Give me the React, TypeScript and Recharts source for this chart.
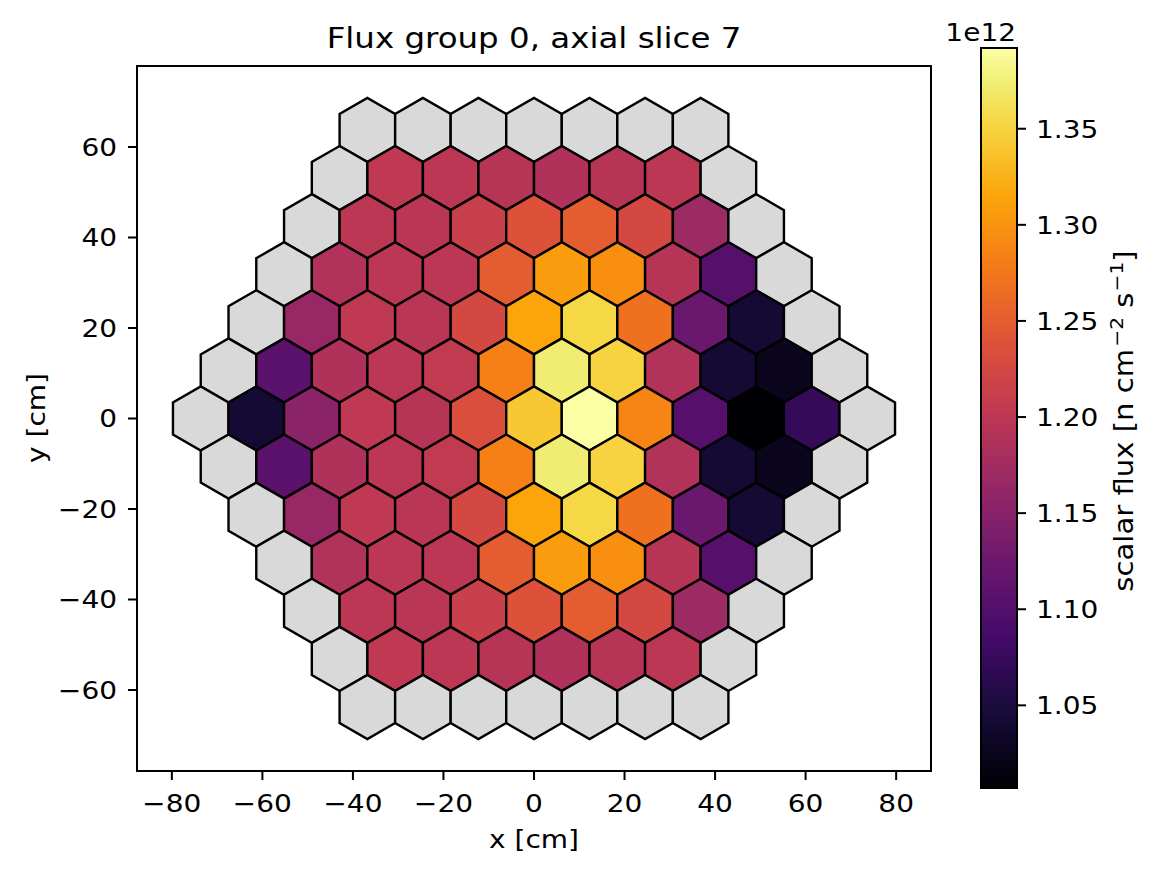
import React from 'react';
import {
  ScatterChart,
  Scatter,
  ComposedChart,
  Line,
  XAxis,
  YAxis,
  ReferenceArea,
  Customized,
} from 'recharts';

// ---------------- data ----------------
const TITLE = 'Flux group 0, axial slice 7';
const X_LABEL = 'x [cm]';
const Y_LABEL = 'y [cm]';
const CB_LABEL_MAIN = 'scalar flux [n cm';
const CB_LABEL_EXP1 = '\u22122';
const CB_LABEL_MID = ' s';
const CB_LABEL_EXP2 = '\u22121';
const CB_LABEL_END = ']';
const CB_OFFSET = '1e12';

const PITCH = 12.27; // hex pitch (cm)
const RINGS = 6; // outer ring (ring 6) has no data -> gray

const X_TICKS = [-80, -60, -40, -20, 0, 20, 40, 60, 80];
const Y_TICKS = [-60, -40, -20, 0, 20, 40, 60];
const CB_TICKS = [1.05e12, 1.1e12, 1.15e12, 1.2e12, 1.25e12, 1.3e12, 1.35e12];

// interior hex values per row, from top (row +5) to bottom (row -5), left to right
const ROW_P5 = [1.203e12, 1.2e12, 1.194e12, 1.188e12, 1.194e12, 1.2e12];
const ROW_P4 = [1.2e12, 1.198e12, 1.213e12, 1.238e12, 1.25e12, 1.226e12, 1.169e12];
const ROW_P3 = [1.19e12, 1.2e12, 1.2e12, 1.25e12, 1.307e12, 1.296e12, 1.194e12, 1.103e12];
const ROW_P2 = [1.165e12, 1.203e12, 1.198e12, 1.226e12, 1.315e12, 1.354e12, 1.269e12, 1.1225e12, 1.042e12];
const ROW_P1 = [1.107e12, 1.188e12, 1.2e12, 1.205e12, 1.284e12, 1.373e12, 1.35e12, 1.19e12, 1.042e12, 1.026e12];
const ROW_0 = [1.042e12, 1.153e12, 1.203e12, 1.194e12, 1.234e12, 1.342e12, 1.392e12, 1.288e12, 1.103e12, 1.007e12, 1.072e12];
const ROW_M1 = [1.107e12, 1.188e12, 1.2e12, 1.205e12, 1.284e12, 1.373e12, 1.35e12, 1.19e12, 1.042e12, 1.026e12];
const ROW_M2 = [1.165e12, 1.203e12, 1.198e12, 1.226e12, 1.315e12, 1.354e12, 1.269e12, 1.1225e12, 1.042e12];
const ROW_M3 = [1.19e12, 1.2e12, 1.2e12, 1.25e12, 1.307e12, 1.296e12, 1.194e12, 1.103e12];
const ROW_M4 = [1.2e12, 1.198e12, 1.213e12, 1.238e12, 1.25e12, 1.226e12, 1.169e12];
const ROW_M5 = [1.203e12, 1.2e12, 1.194e12, 1.188e12, 1.194e12, 1.2e12];

const ROWS = [ROW_P5, ROW_P4, ROW_P3, ROW_P2, ROW_P1, ROW_0, ROW_M1, ROW_M2, ROW_M3, ROW_M4, ROW_M5];

// inferno colormap samples: [position, colour]
const INFERNO: [number, string][] = [
  [0.0, '#000004'],
  [0.1, '#160b39'],
  [0.2, '#420a68'],
  [0.3, '#6a176e'],
  [0.4, '#932667'],
  [0.5, '#bc3754'],
  [0.6, '#dd513a'],
  [0.7, '#f37819'],
  [0.8, '#fca50a'],
  [0.9, '#f6d746'],
  [0.95, '#f1ed71'],
  [1.0, '#fcffa4'],
];

// ---------------- derived ----------------
type Cell = { x: number; y: number; v: number | null };

const CELLS: Cell[] = [];
for (let j = RINGS; j >= -RINGS; j--) {
  const n = 2 * RINGS + 1 - Math.abs(j);
  for (let i = 0; i < n; i++) {
    const x = (i - (n - 1) / 2) * PITCH;
    const y = (j * PITCH * Math.sqrt(3)) / 2;
    const edge = Math.abs(j) === RINGS || i === 0 || i === n - 1;
    const v = edge ? null : ROWS[RINGS - 1 - j][i - 1];
    CELLS.push({ x, y, v });
  }
}

const ALL_VALUES = ROWS.flat();
const VMIN = Math.min(...ALL_VALUES);
const VMAX = Math.max(...ALL_VALUES);

// ---------------- layout ----------------
const W = 1158;
const H = 877;
const FONT = '"DejaVu Sans", Verdana, sans-serif';
const GRAY = '#d9d9d9';
const SX = 1.12; // horizontal glyph stretch seen in the reference text
const TICK_FS = 25;

const MARGIN = { top: 66, right: 227, bottom: 46, left: 57 };
const Y_AXIS_W = 80;
const X_AXIS_H = 60;
const PLOT_W = W - MARGIN.left - MARGIN.right - Y_AXIS_W;
const X_MIN = -87.7;
const X_MAX = 87.7;
const Y_MIN = -77.9;
const Y_MAX = 77.9;
const PX_PER_UNIT = PLOT_W / (X_MAX - X_MIN);
const HEX_R_PX = (PITCH / Math.sqrt(3)) * PX_PER_UNIT;

const PLOT_CX = MARGIN.left + Y_AXIS_W + PLOT_W / 2;

// ---------------- helpers ----------------
function hexToRgb(h: string) {
  return [1, 3, 5].map((k) => parseInt(h.slice(k, k + 2), 16));
}
function inferno(t: number) {
  const tt = Math.max(0, Math.min(1, t));
  let i = 0;
  while (i < INFERNO.length - 2 && tt > INFERNO[i + 1][0]) i++;
  const [p0, c0] = INFERNO[i];
  const [p1, c1] = INFERNO[i + 1];
  const f = (tt - p0) / (p1 - p0);
  const a = hexToRgb(c0);
  const b = hexToRgb(c1);
  const c = a.map((av, k) => Math.round(av + (b[k] - av) * f));
  return `rgb(${c[0]},${c[1]},${c[2]})`;
}
const norm = (v: number) => (v - VMIN) / (VMAX - VMIN);
const fmtAxis = (v: number) => (v < 0 ? `\u2212${Math.abs(v)}` : `${v}`);
const fmtCb = (v: number) => (v / 1e12).toFixed(2);

const HexCell = (props: any) => {
  const { cx, cy, payload } = props;
  if (cx == null || cy == null) return null;
  const pts = [30, 90, 150, 210, 270, 330]
    .map((a) => {
      const r = (a * Math.PI) / 180;
      return `${cx + HEX_R_PX * Math.cos(r)},${cy + HEX_R_PX * Math.sin(r)}`;
    })
    .join(' ');
  const v = payload?.v;
  return (
    <polygon
      points={pts}
      fill={v == null ? GRAY : inferno(norm(v))}
      stroke="#000"
      strokeWidth={2.4}
      strokeLinejoin="miter"
    />
  );
};

type STProps = {
  x: number;
  y: number;
  anchor: 'start' | 'middle' | 'end';
  fs: number;
  rot?: number;
  dy?: string;
  children: React.ReactNode;
};
const StretchText = ({ x, y, anchor, fs, rot = 0, dy, children }: STProps) => (
  <text
    transform={`translate(${x},${y}) rotate(${rot}) scale(${SX},1)`}
    x={0}
    y={0}
    dy={dy}
    textAnchor={anchor}
    fontSize={fs}
    fontFamily={FONT}
    fill="#000"
  >
    {children}
  </text>
);

const XTick = (props: any) => {
  const { x, y, payload } = props;
  return (
    <StretchText x={x} y={y} anchor="middle" fs={TICK_FS} dy="0.71em">
      {fmtAxis(payload.value)}
    </StretchText>
  );
};
const YTick = (props: any) => {
  const { x, y, payload } = props;
  return (
    <StretchText x={x} y={y} anchor="end" fs={TICK_FS} dy="0.355em">
      {fmtAxis(payload.value)}
    </StretchText>
  );
};
const CbTick = (props: any) => {
  const { x, y, payload } = props;
  return (
    <StretchText x={x} y={y} anchor="start" fs={TICK_FS} dy="0.355em">
      {fmtCb(payload.value)}
    </StretchText>
  );
};

const Annotations = () => (
  <g>
    <StretchText x={PLOT_CX} y={48} anchor="middle" fs={29}>
      {TITLE}
    </StretchText>
    <StretchText x={PLOT_CX} y={848} anchor="middle" fs={25}>
      {X_LABEL}
    </StretchText>
    <StretchText x={45} y={418} anchor="middle" fs={25} rot={-90}>
      {Y_LABEL}
    </StretchText>
    <StretchText x={1133} y={421} anchor="middle" fs={26} rot={-90}>
      {CB_LABEL_MAIN}
      <tspan dx={2} dy={-10} fontSize={18}>
        {CB_LABEL_EXP1}
      </tspan>
      <tspan dy={10}>{CB_LABEL_MID}</tspan>
      <tspan dx={1} dy={-10} fontSize={18}>
        {CB_LABEL_EXP2}
      </tspan>
      <tspan dy={10}>{CB_LABEL_END}</tspan>
    </StretchText>
    <StretchText x={1016} y={41} anchor="end" fs={25}>
      {CB_OFFSET}
    </StretchText>
  </g>
);

const CB_DATA = [
  { x: 0, v: VMIN },
  { x: 1, v: VMAX },
];
const CB_STOPS = INFERNO.map(([p, c]) => ({ offset: p, color: c }));

export default function App() {
  return (
    <div style={{ position: 'absolute', left: 0, top: 0, width: W, height: H, background: '#fff' }}>
      <div style={{ position: 'absolute', left: 0, top: 0 }}>
        <ScatterChart width={W} height={H} margin={MARGIN}>
          <XAxis
            type="number"
            dataKey="x"
            domain={[X_MIN, X_MAX]}
            allowDataOverflow
            ticks={X_TICKS}
            interval={0}
            height={X_AXIS_H}
            tickSize={9}
            tickMargin={14}
            stroke="#000"
            tick={<XTick />}
            axisLine={{ stroke: '#000', strokeWidth: 2 }}
            tickLine={{ stroke: '#000', strokeWidth: 2 }}
          />
          <YAxis
            type="number"
            dataKey="y"
            domain={[Y_MIN, Y_MAX]}
            allowDataOverflow
            ticks={Y_TICKS}
            interval={0}
            width={Y_AXIS_W}
            tickSize={9}
            tickMargin={11}
            stroke="#000"
            tick={<YTick />}
            axisLine={{ stroke: '#000', strokeWidth: 2 }}
            tickLine={{ stroke: '#000', strokeWidth: 2 }}
          />
          <ReferenceArea
            x1={X_MIN}
            x2={X_MAX}
            y1={Y_MIN}
            y2={Y_MAX}
            fill="none"
            fillOpacity={0}
            stroke="#000"
            strokeWidth={2}
            ifOverflow="visible"
          />
          <Scatter data={CELLS} shape={HexCell} isAnimationActive={false} />
          <Customized component={<Annotations />} />
        </ScatterChart>
      </div>
      <div style={{ position: 'absolute', left: 0, top: 0 }}>
        <ComposedChart
          width={W}
          height={H}
          data={CB_DATA}
          margin={{ top: 48, right: 41, bottom: 89, left: 981 }}
        >
          <defs>
            <linearGradient id="infernoGrad" x1="0" y1="1" x2="0" y2="0">
              {CB_STOPS.map((s) => (
                <stop key={s.offset} offset={s.offset} stopColor={s.color} />
              ))}
            </linearGradient>
          </defs>
          <XAxis type="number" dataKey="x" domain={[0, 1]} hide height={0} />
          <YAxis
            type="number"
            orientation="right"
            domain={[VMIN, VMAX]}
            allowDataOverflow
            ticks={CB_TICKS}
            interval={0}
            width={100}
            tickSize={9}
            tickMargin={10}
            stroke="#000"
            tick={<CbTick />}
            axisLine={false}
            tickLine={{ stroke: '#000', strokeWidth: 2 }}
          />
          <ReferenceArea
            x1={0}
            x2={1}
            y1={VMIN}
            y2={VMAX}
            fill="url(#infernoGrad)"
            fillOpacity={1}
            stroke="#000"
            strokeWidth={2}
            ifOverflow="visible"
          />
          <Line dataKey="v" stroke="none" dot={false} activeDot={false} isAnimationActive={false} />
        </ComposedChart>
      </div>
    </div>
  );
}
